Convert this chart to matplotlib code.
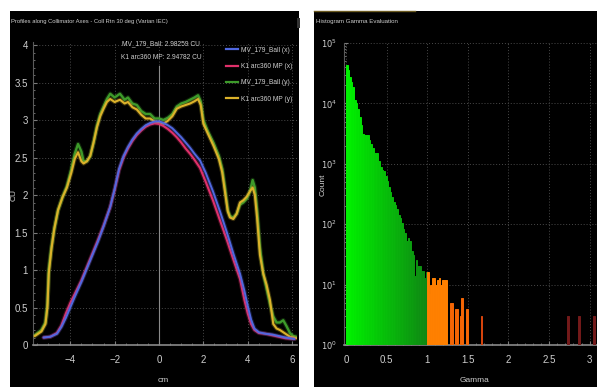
import matplotlib.pyplot as plt
from matplotlib.patches import Rectangle
from matplotlib.lines import Line2D
from matplotlib.ticker import MultipleLocator, FixedLocator, NullFormatter

# ---------------- profile data (cm, CU) ----------------
x_prof = [-5.2, -4.9, -4.6, -4.4, -4.2, -4.0, -3.8, -3.5, -3.25, -3.0, -2.75, -2.5,
          -2.2, -2.0, -1.8, -1.6, -1.4, -1.2, -1.0, -0.8, -0.6, -0.4, -0.2, 0.0,
          0.2, 0.4, 0.6, 0.8, 1.0, 1.2, 1.4, 1.6, 1.85, 2.1, 2.43, 2.75, 3.06,
          3.35, 3.65, 3.85, 4.0, 4.15, 4.3, 4.5, 4.8, 5.1, 5.4, 5.7, 6.1]
mv_x = [0.10, 0.11, 0.15, 0.24, 0.36, 0.50, 0.64, 0.84, 1.02, 1.20, 1.38, 1.58,
        1.84, 2.08, 2.35, 2.52, 2.64, 2.74, 2.82, 2.88, 2.93, 2.96, 2.98, 2.98259,
        2.96, 2.93, 2.89, 2.83, 2.77, 2.70, 2.63, 2.55, 2.46, 2.30, 2.05, 1.78, 1.50,
        1.22, 0.95, 0.72, 0.52, 0.34, 0.22, 0.17, 0.15, 0.14, 0.12, 0.10, 0.08]
k1_x = [0.10, 0.11, 0.16, 0.26, 0.42, 0.56, 0.68, 0.86, 1.04, 1.22, 1.40, 1.59,
        1.84, 2.07, 2.33, 2.50, 2.62, 2.72, 2.80, 2.86, 2.91, 2.94, 2.955, 2.94782,
        2.92, 2.88, 2.83, 2.77, 2.70, 2.62, 2.55, 2.47, 2.36, 2.18, 1.93, 1.66, 1.40,
        1.14, 0.88, 0.60, 0.42, 0.28, 0.20, 0.16, 0.15, 0.13, 0.11, 0.09, 0.08]

y_prof = [-5.6, -5.3, -5.12, -5.03, -4.97, -4.85, -4.72, -4.55, -4.35, -4.15, -3.95,
          -3.8, -3.65, -3.5, -3.4, -3.25, -3.1, -2.95, -2.8, -2.65, -2.5, -2.35, -2.2,
          -2.0, -1.76, -1.55, -1.4, -1.2, -1.0, -0.8, -0.6, -0.4, -0.2, 0.0, 0.2, 0.4,
          0.6, 0.8, 1.0, 1.2, 1.4, 1.6, 1.76, 1.88, 2.0, 2.2, 2.45, 2.7, 2.85, 2.97,
          3.1, 3.2, 3.35, 3.5, 3.65, 3.8, 3.96, 4.1, 4.22, 4.32, 4.42, 4.55, 4.7, 4.85,
          5.0, 5.15, 5.3, 5.45, 5.6, 5.75, 5.9, 6.05, 6.2]
mv_y = [0.13, 0.20, 0.30, 0.55, 1.00, 1.30, 1.55, 1.80, 1.97, 2.12, 2.35,
        2.55, 2.68, 2.58, 2.45, 2.45, 2.52, 2.70, 2.92, 3.08, 3.18, 3.28, 3.35,
        3.30, 3.35, 3.27, 3.30, 3.22, 3.20, 3.12, 3.08, 3.08, 3.02, 3.02, 3.00, 3.03,
        3.08, 3.18, 3.22, 3.24, 3.27, 3.30, 3.33, 3.25, 3.00, 2.85, 2.70, 2.52, 2.35, 2.10,
        1.80, 1.72, 1.70, 1.75, 1.87, 1.90, 1.95, 2.05, 2.20, 2.10, 1.80, 1.30, 0.95, 0.75,
        0.55, 0.38, 0.30, 0.30, 0.33, 0.25, 0.16, 0.12, 0.11]
k1_y = [0.12, 0.18, 0.28, 0.50, 0.95, 1.28, 1.55, 1.80, 1.97, 2.10, 2.30,
        2.48, 2.57, 2.45, 2.42, 2.45, 2.52, 2.70, 2.90, 3.05, 3.15, 3.24, 3.28,
        3.24, 3.27, 3.22, 3.24, 3.17, 3.14, 3.07, 3.02, 3.02, 2.98, 2.97, 2.95, 2.99,
        3.05, 3.15, 3.18, 3.20, 3.22, 3.25, 3.28, 3.20, 2.95, 2.82, 2.66, 2.48, 2.30, 2.05,
        1.78, 1.70, 1.68, 1.75, 1.90, 1.93, 1.98, 2.05, 2.10, 2.00, 1.70, 1.20, 0.95, 0.80,
        0.60, 0.28, 0.22, 0.20, 0.17, 0.14, 0.11, 0.10, 0.09]

series_names = ["MV_179_Ball (x)", "K1 arc360 MP (x)", "MV_179_Ball (y)", "K1 arc360 MP (y)"]
cursor_values = [2.98259, 2.94782]

# ---------------- gamma histogram (bin left edge, count) ----------------
gamma_left = [0.00, 0.02, 0.04, 0.06, 0.08, 0.10, 0.12, 0.14, 0.16, 0.18,
              0.20, 0.22, 0.24, 0.26, 0.28, 0.30, 0.32, 0.34, 0.36, 0.38,
              0.40, 0.42, 0.44, 0.46, 0.48, 0.50, 0.52, 0.54, 0.56, 0.58,
              0.60, 0.62, 0.64, 0.66, 0.68, 0.70, 0.72, 0.74, 0.76, 0.78,
              0.80, 0.82, 0.84, 0.86, 0.88, 0.90, 0.92, 0.94, 0.96, 0.98,
              1.00, 1.02, 1.04, 1.06, 1.08, 1.10, 1.12, 1.14, 1.16, 1.18,
              1.20, 1.22, 1.28, 1.30, 1.34, 1.36, 1.40, 1.42, 1.48,
              1.66, 2.72, 2.86, 3.04]
gamma_count = [43600, 35500, 27500, 22400, 18600, 11200, 10000, 7940, 6030, 4470,
               3160, 3020, 3020, 2950, 2510, 2140, 1820, 1510, 1480, 1480,
               1120, 890, 794, 759, 631, 525, 417, 339, 282, 234,
               209, 178, 141, 126, 105, 83, 71, 51, 59, 52,
               35, 30, 13, 25, 19, 19, 16, 16, 12, 15,
               15, 6, 9, 12, 12, 9, 11, 12, 9, 11,
               11, 11, 4, 4, 3, 3, 2, 5, 3,
               2, 2, 2, 2]
bin_width = 0.02

W, H = 597, 387
plt.rcParams['font.family'] = ['Liberation Sans', 'DejaVu Sans']
txt = '#cfcfcf'
grid_c = '#4a4a4a'

fig = plt.figure(figsize=(W / 100, H / 100), dpi=100, facecolor='white')

# dark panels behind the two plots
fig.patches.append(Rectangle((10 / W, 0), 289 / W, 376 / H, transform=fig.transFigure,
                             facecolor='black', edgecolor='none', zorder=-10))
fig.patches.append(Rectangle((314 / W, 0), 283 / W, 376 / H, transform=fig.transFigure,
                             facecolor='black', edgecolor='none', zorder=-10))
fig.lines.append(Line2D([314 / W, 415 / W], [376 / H, 376 / H], transform=fig.transFigure,
                        color='#6b5a20', lw=1.0, zorder=-5))
fig.patches.append(Rectangle((297 / W, 359 / H), 3 / W, 10 / H, transform=fig.transFigure,
                             facecolor='#333333', edgecolor='none', zorder=-5))

# ================= profiles =================
ax1 = fig.add_axes([33 / W, 1 - 345 / H, 264 / W, 303 / H])
ax1.set_facecolor('black')
ax1.set_xlim(-5.68, 6.22)
ax1.set_ylim(0, 4.04)

profiles = [(y_prof, mv_y, '#3d9a2a', 1.7, 3),
            (y_prof, k1_y, '#dcb22a', 1.5, 4),
            (x_prof, k1_x, '#e0306a', 1.5, 5),
            (x_prof, mv_x, '#5068e0', 1.4, 6)]
for xs, ys, col, lw, z in profiles:
    # soft halo under each trace
    ax1.plot(xs, ys, color=col, lw=lw + 1.6, alpha=0.25, zorder=z - 0.5,
             solid_capstyle='round')
    ax1.plot(xs, ys, color=col, lw=lw, zorder=z, solid_capstyle='round')

ax1.plot([0, 0], [0, 3.72], color='#8a8a8a', lw=0.8, zorder=2)
ax1.text(0.1, 4.02, f"MV_179_Ball: {cursor_values[0]:.5f} CU", color=txt,
         fontsize=4.8, ha='center', va='center')
ax1.text(0.1, 3.83, f"K1 arc360 MP: {cursor_values[1]:.5f} CU", color=txt,
         fontsize=4.8, ha='center', va='center')

handles = [Line2D([], [], color=c, lw=1.6) for c in ['#5068e0', '#e0306a', '#3d9a2a', '#dcb22a']]
ax1.legend(handles, series_names, loc='upper right', bbox_to_anchor=(1.0, 1.0),
           frameon=False, fontsize=4.8, handlelength=1.8, handletextpad=0.5,
           labelspacing=1.4, labelcolor=txt, borderaxespad=0.3)

ax1.xaxis.set_major_locator(MultipleLocator(2))
ax1.xaxis.set_minor_locator(MultipleLocator(0.5))
ax1.yaxis.set_minor_locator(MultipleLocator(0.1))
ax1.set_yticks([0, 0.5, 1, 1.5, 2, 2.5, 3, 3.5, 4])
ax1.set_yticklabels(['0', '0.5', '1', '1.5', '2', '2.5', '3', '3.5', '4'])
ax1.grid(True, which='major', color=grid_c, ls=(0, (1, 2)), lw=0.7)

# ================= gamma histogram =================
ax2 = fig.add_axes([344 / W, 1 - 345 / H, 253 / W, 302 / H])
ax2.set_facecolor('black')
ax2.set_yscale('log')
ax2.set_xlim(-0.024, 3.09)
ax2.set_ylim(1, 1e5)


def gamma_colour(g):
    if g < 0.99:
        t = g / 0.99
        return (0.0 + 0.06 * t, 0.95 - 0.42 * t, 0.0 + 0.08 * t)
    if g < 1.25:
        return (1.0, 0.50, 0.0)
    if g < 1.55:
        return (0.96, 0.40, 0.02)
    if g < 2.0:
        return (0.85, 0.27, 0.05)
    return (0.45, 0.10, 0.10)


bar_cols = [gamma_colour(g) for g in gamma_left]
ax2.bar(gamma_left, gamma_count, width=bin_width, align='edge', color=bar_cols,
        edgecolor=bar_cols, linewidth=0.7, bottom=1, zorder=3)

ax2.xaxis.set_minor_locator(MultipleLocator(0.1))
ax2.set_xticks([0, 0.5, 1, 1.5, 2, 2.5, 3])
ax2.set_xticklabels(['0', '0.5', '1', '1.5', '2', '2.5', '3'])
ax2.set_yticks([1, 10, 100, 1000, 10000, 100000])
ax2.set_yticklabels(['$10^0$', '$10^1$', '$10^2$', '$10^3$', '$10^4$', '$10^5$'])
ax2.yaxis.set_minor_locator(FixedLocator(
    [m * 10 ** d for d in range(5) for m in range(2, 10)]))
ax2.yaxis.set_minor_formatter(NullFormatter())
ax2.grid(True, which='major', color=grid_c, ls=(0, (1, 2)), lw=0.7)

for ax in (ax1, ax2):
    for side in ('top', 'right'):
        ax.spines[side].set_visible(False)
    ax.spines['left'].set_color('#5a5a5a')
    ax.spines['bottom'].set_color('#8a8a8a')
    ax.spines['bottom'].set_linewidth(1.2)
    ax.tick_params(which='both', direction='in', colors='#7a7a7a', labelcolor=txt)
    ax.tick_params(which='major', length=3, labelsize=7)
    ax.tick_params(which='minor', length=1.5)
    ax.tick_params(axis='x', pad=7)
    ax.set_axisbelow(True)
ax2.tick_params(axis='y', labelsize=6, pad=5)

# titles and axis names
fig.text(11 / W, 1 - 22 / H, "Profiles along Collimator Axes - Coll Rtn 30 deg (Varian IEC)",
         color=txt, fontsize=4.2, va='center', ha='left')
fig.text(316 / W, 1 - 22 / H, "Histogram Gamma Evaluation", color=txt,
         fontsize=4.4, va='center', ha='left')
fig.text(14 / W, 1 - 195 / H, "CU", color=txt, fontsize=6, rotation=90,
         va='center', ha='center')
fig.text(323 / W, 1 - 185 / H, "Count", color=txt, fontsize=6, rotation=90,
         va='center', ha='center')
fig.text(163 / W, 1 - 381 / H, "cm", color=txt, fontsize=6, va='center', ha='center')
fig.text(475 / W, 1 - 381 / H, "Gamma", color=txt, fontsize=6, va='center', ha='center')

fig.savefig("out.png", dpi=100, facecolor='white')
